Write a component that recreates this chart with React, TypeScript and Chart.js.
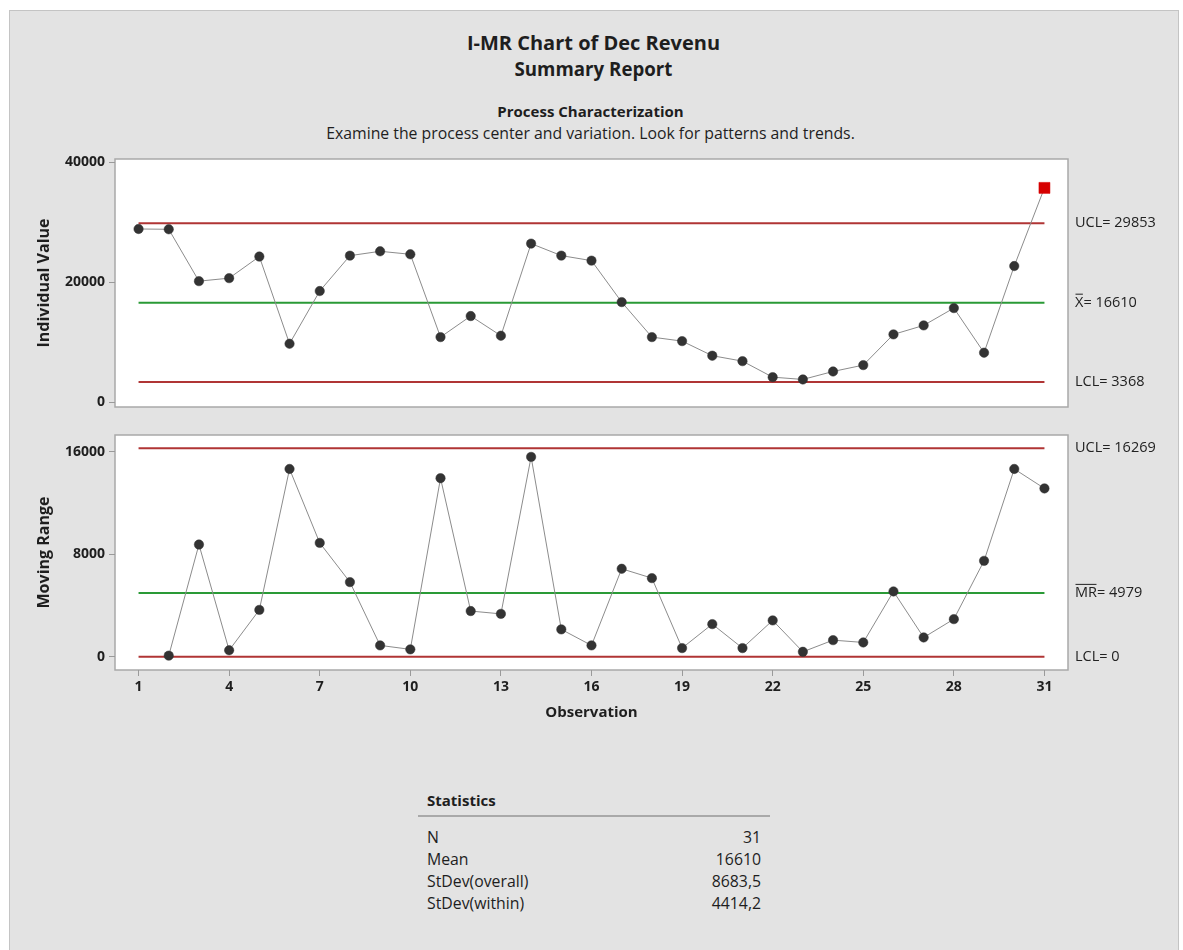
import React, { useEffect, useRef } from "react";
import { Chart, registerables } from "chart.js";

Chart.register(...registerables);

// ---------- data ----------
const observations = [1, 2, 3, 4, 5, 6, 7, 8, 9, 10, 11, 12, 13, 14, 15, 16, 17, 18, 19, 20, 21, 22, 23, 24, 25, 26, 27, 28, 29, 30, 31];
const individualValues = [28900, 28850, 20200, 20700, 24300, 9770, 18550, 24450, 25180, 24680, 10870, 14380, 11100, 26460, 24460, 23620, 16710, 10870, 10200, 7770, 6860, 4190, 3810, 5140, 6200, 11320, 12820, 15710, 8270, 22720, 35750];
const movingRanges = [null, 80, 8750, 500, 3650, 14650, 8880, 5820, 880, 570, 13930, 3560, 3340, 15590, 2130, 880, 6860, 6130, 670, 2540, 670, 2830, 380, 1290, 1110, 5090, 1500, 2930, 7480, 14650, 13130];
const individualOutOfControl = [31];
const movingRangeOutOfControl: number[] = [];

const iUCL = 29853;
const iCL = 16610;
const iLCL = 3368;
const mrUCL = 16269;
const mrCL = 4979;
const mrLCL = 0;

const xTickValues = [1, 4, 7, 10, 13, 16, 19, 22, 25, 28, 31];
const individualTicks = [0, 20000, 40000];
const movingRangeTicks = [0, 8000, 16000];

const statLabels = ["N", "Mean", "StDev(overall)", "StDev(within)"];
const statValues = ["31", "16610", "8683,5", "4414,2"];

// ---------- styles ----------
const FONT = '"Open Sans", "Noto Sans", sans-serif';
const TEXT = "#1e1e1e";
const RED = "#b03535";
const GREEN = "#2a9a36";
const POINT = "#333333";
const OOC = "#d60000";

Chart.defaults.font.family = FONT;

type LimitLabel = { value: number; bar?: string; rest: string };

const framePlugin = {
  id: "frame",
  beforeDraw(chart: any) {
    const { ctx, chartArea: a } = chart;
    ctx.save();
    ctx.fillStyle = "#ffffff";
    ctx.fillRect(a.left, a.top, a.right - a.left, a.bottom - a.top);
    ctx.strokeStyle = "#a9a9a9";
    ctx.lineWidth = 1.5;
    ctx.strokeRect(a.left, a.top, a.right - a.left, a.bottom - a.top);
    ctx.restore();
  },
};

function makeLabelPlugin(items: LimitLabel[]) {
  return {
    id: "limitLabels",
    afterDraw(chart: any) {
      const { ctx, chartArea: a } = chart;
      const y = chart.scales.y;
      ctx.save();
      ctx.font = `14.5px ${FONT}`;
      ctx.fillStyle = "#222";
      ctx.strokeStyle = "#222";
      ctx.lineWidth = 1;
      ctx.textBaseline = "middle";
      ctx.textAlign = "left";
      for (const it of items) {
        let x = a.right + 7;
        const py = y.getPixelForValue(it.value);
        if (it.bar) {
          const w = ctx.measureText(it.bar).width;
          ctx.fillText(it.bar, x, py);
          ctx.beginPath();
          ctx.moveTo(x + 0.5, py - 8.5);
          ctx.lineTo(x + w - 0.5, py - 8.5);
          ctx.stroke();
          x += w;
        }
        ctx.fillText(it.rest, x, py);
      }
      ctx.restore();
    },
  };
}

function limitLine(value: number, color: string) {
  return {
    data: [
      { x: observations[0], y: value },
      { x: observations[observations.length - 1], y: value },
    ],
    borderColor: color,
    borderWidth: 2,
    pointRadius: 0,
    fill: false,
  };
}

function seriesDataset(values: (number | null)[], ooc: number[]) {
  const present = observations.filter((_, i) => values[i] !== null);
  return {
    data: observations
      .map((o, i) => ({ x: o, y: values[i] }))
      .filter((p) => p.y !== null),
    borderColor: "#8c8c8c",
    borderWidth: 1,
    pointStyle: present.map((o) => (ooc.includes(o) ? "rect" : "circle")),
    pointRadius: present.map((o) => (ooc.includes(o) ? 7.8 : 4.7)),
    pointBackgroundColor: present.map((o) => (ooc.includes(o) ? OOC : POINT)),
    pointBorderColor: present.map((o) => (ooc.includes(o) ? OOC : POINT)),
    pointBorderWidth: 0.5,
    fill: false,
    tension: 0,
  };
}

const xMin = 0.22;
const xMax = 31.78;

function yAxis(title: string, ticks: number[], min: number, max: number) {
  return {
    type: "linear" as const,
    min,
    max,
    afterFit: (s: any) => {
      s.width = 106;
    },
    afterBuildTicks: (s: any) => {
      s.ticks = ticks.map((v) => ({ value: v }));
    },
    border: { display: false },
    grid: {
      display: true,
      drawOnChartArea: false,
      drawTicks: true,
      tickLength: 6,
      tickColor: "#9a9a9a",
      tickWidth: 1,
    },
    ticks: {
      padding: 4,
      color: TEXT,
      font: { size: 14, weight: "bold" as const, family: FONT },
      callback: (v: any) => String(v),
    },
    title: {
      display: true,
      text: title,
      color: TEXT,
      font: { size: 16, weight: "bold" as const, family: FONT },
      padding: { top: 26, bottom: 0 },
    },
  };
}

function IChart() {
  const ref = useRef<HTMLCanvasElement>(null);
  useEffect(() => {
    if (!ref.current) return;
    const chart = new Chart(ref.current, {
      type: "line",
      data: {
        datasets: [
          seriesDataset(individualValues, individualOutOfControl) as any,
          limitLine(iUCL, RED),
          limitLine(iCL, GREEN),
          limitLine(iLCL, RED),
        ],
      },
      options: {
        animation: false,
        responsive: false,
        events: [],
        layout: { padding: { left: 0, top: 29, right: 110, bottom: 13 } },
        plugins: { legend: { display: false }, tooltip: { enabled: false } },
        scales: {
          x: { type: "linear", min: xMin, max: xMax, display: false },
          y: yAxis("Individual Value", individualTicks, -785, 40570) as any,
        },
      },
      plugins: [
        framePlugin,
        makeLabelPlugin([
          { value: iUCL, rest: `UCL= ${iUCL}` },
          { value: iCL, bar: "X", rest: `= ${iCL}` },
          { value: iLCL, rest: `LCL= ${iLCL}` },
        ]),
      ],
    });
    return () => chart.destroy();
  }, []);
  return (
    <canvas
      ref={ref}
      width={1169}
      height={290}
      style={{ position: "absolute", left: 9, top: 130, width: 1169, height: 290 }}
    />
  );
}

function MRChart() {
  const ref = useRef<HTMLCanvasElement>(null);
  useEffect(() => {
    if (!ref.current) return;
    const chart = new Chart(ref.current, {
      type: "line",
      data: {
        datasets: [
          seriesDataset(movingRanges, movingRangeOutOfControl) as any,
          limitLine(mrUCL, RED),
          limitLine(mrCL, GREEN),
          limitLine(mrLCL, RED),
        ],
      },
      options: {
        animation: false,
        responsive: false,
        events: [],
        layout: { padding: { left: 0, top: 25, right: 110, bottom: 0 } },
        plugins: { legend: { display: false }, tooltip: { enabled: false } },
        scales: {
          x: {
            type: "linear",
            min: xMin,
            max: xMax,
            afterFit: (s: any) => {
              s.height = 70;
            },
            afterBuildTicks: (s: any) => {
              s.ticks = xTickValues.map((v) => ({ value: v }));
            },
            border: { display: false },
            grid: {
              display: true,
              drawOnChartArea: false,
              drawTicks: true,
              tickLength: 6,
              tickColor: "#9a9a9a",
            },
            ticks: {
              padding: 3,
              color: TEXT,
              maxRotation: 0,
              font: { size: 14, weight: "bold", family: FONT },
              callback: (v: any) => String(v),
            },
            title: {
              display: true,
              text: "Observation",
              color: TEXT,
              font: { size: 15, weight: "bold", family: FONT },
              padding: { top: 0, bottom: 18 },
            },
          },
          y: yAxis("Moving Range", movingRangeTicks, -1040, 17300) as any,
        },
      },
      plugins: [
        framePlugin,
        makeLabelPlugin([
          { value: mrUCL, rest: `UCL= ${mrUCL}` },
          { value: mrCL, bar: "MR", rest: `= ${mrCL}` },
          { value: mrLCL, rest: `LCL= ${mrLCL}` },
        ]),
      ],
    });
    return () => chart.destroy();
  }, []);
  return (
    <canvas
      ref={ref}
      width={1169}
      height={330}
      style={{ position: "absolute", left: 9, top: 410, width: 1169, height: 330 }}
    />
  );
}

const abs = (o: React.CSSProperties): React.CSSProperties => ({
  position: "absolute",
  fontFamily: FONT,
  color: TEXT,
  whiteSpace: "nowrap",
  ...o,
});

export default function App() {
  return (
    <div
      style={{
        position: "absolute",
        left: 0,
        top: 0,
        width: 1183,
        height: 950,
        overflow: "hidden",
        background: "#ffffff",
      }}
    >
      <div
        style={{
          position: "absolute",
          left: 9,
          top: 10,
          width: 1170,
          height: 960,
          boxSizing: "border-box",
          background: "#e3e3e3",
          border: "1px solid #c4c4c4",
        }}
      />
      <div style={abs({ left: 0, width: 1187, top: 30, textAlign: "center", fontSize: 20, fontWeight: 700, lineHeight: "26px" })}>
        I-MR Chart of Dec Revenu
      </div>
      <div style={abs({ left: 0, width: 1187, top: 56, textAlign: "center", fontSize: 18.7, fontWeight: 700, lineHeight: "26px" })}>
        Summary Report
      </div>
      <div style={abs({ left: 0, width: 1181, top: 101, textAlign: "center", fontSize: 15, fontWeight: 700, lineHeight: "20px" })}>
        Process Characterization
      </div>
      <div style={abs({ left: 0, width: 1181, top: 123, textAlign: "center", fontSize: 15.8, lineHeight: "20px" })}>
        Examine the process center and variation. Look for patterns and trends.
      </div>

      <IChart />
      <MRChart />

      <div style={abs({ left: 427, top: 790, fontSize: 15, fontWeight: 700, lineHeight: "20px" })}>Statistics</div>
      <div style={{ position: "absolute", left: 418, top: 815, width: 352, height: 2, background: "#a9a9a9" }} />
      {statLabels.map((lab, i) => (
        <div
          key={lab}
          style={abs({
            left: 427,
            width: 334,
            top: 827 + i * 22,
            fontSize: 15.8,
            lineHeight: "20px",
            display: "flex",
            justifyContent: "space-between",
          })}
        >
          <span>{lab}</span>
          <span>{statValues[i]}</span>
        </div>
      ))}
    </div>
  );
}
